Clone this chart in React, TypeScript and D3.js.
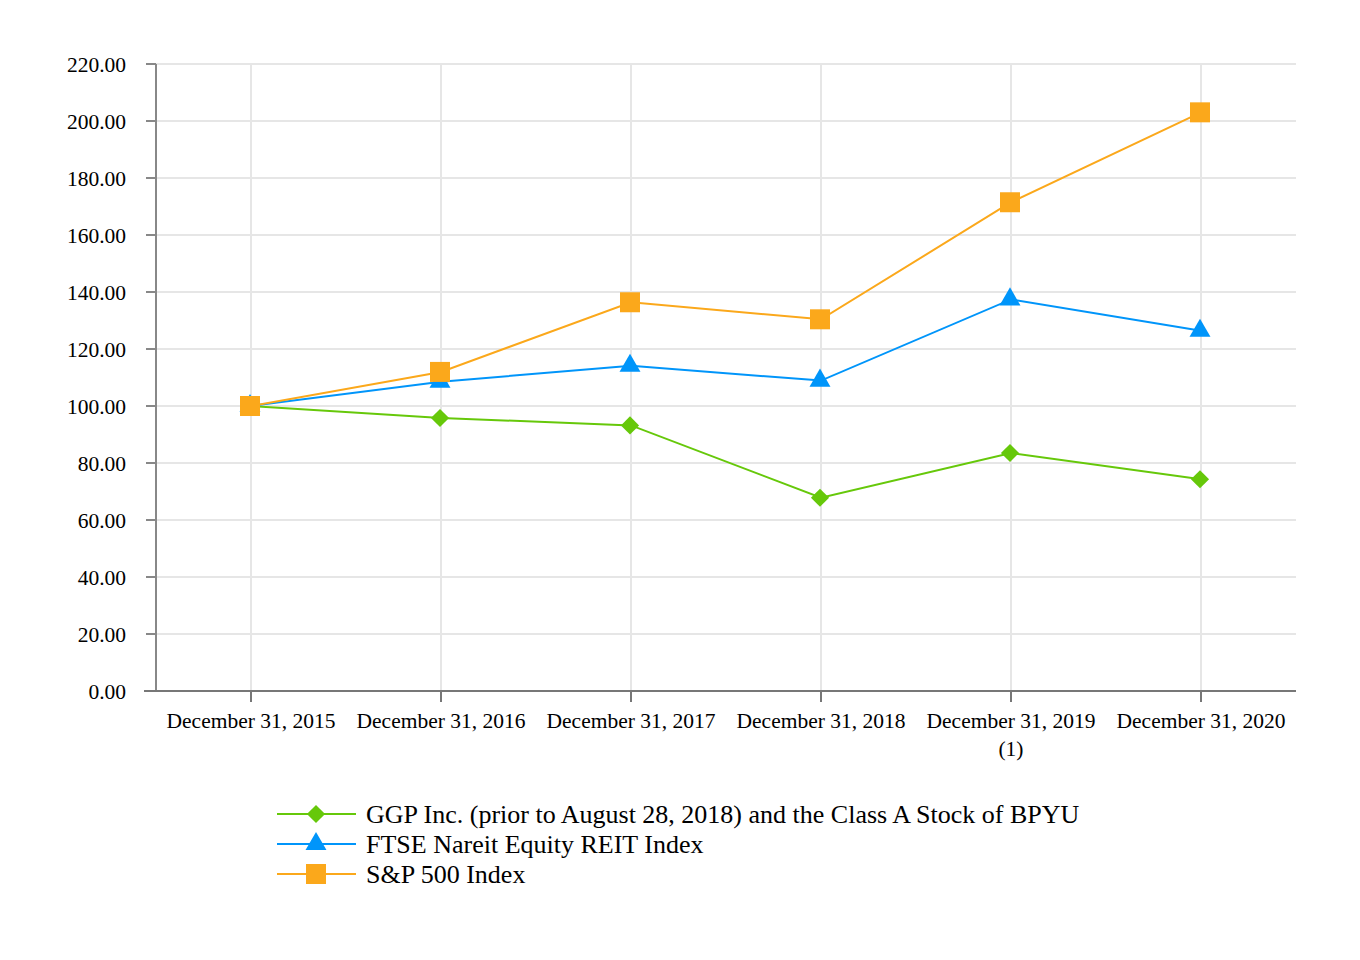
import * as d3 from "d3";
import { useEffect, useRef } from "react";

const categories = [
  "December 31, 2015",
  "December 31, 2016",
  "December 31, 2017",
  "December 31, 2018",
  "December 31, 2019",
  "December 31, 2020",
];
const footnotes = ["", "", "", "", "(1)", ""];

const ggpValues = [100.0, 95.8, 93.2, 67.8, 83.5, 74.3];
const reitValues = [100.0, 108.52, 114.13, 108.91, 137.39, 126.4];
const spValues = [100.0, 111.96, 136.4, 130.42, 171.49, 203.04];

const yTicks = [0, 20, 40, 60, 80, 100, 120, 140, 160, 180, 200, 220];

const seriesNames = [
  "GGP Inc. (prior to August 28, 2018) and the Class A Stock of BPYU",
  "FTSE Nareit Equity REIT Index",
  "S&P 500 Index",
];

const App = () => {
  const ref = useRef<SVGSVGElement>(null);

  useEffect(() => {
    if (!ref.current) return;
    const svg = d3.select(ref.current);
    svg.selectAll("*").remove();

    const left = 156;
    const right = 1296;
    const top = 64;
    const bottom = 691;
    const font = "'Liberation Serif', 'Times New Roman', serif";

    const x = d3.scaleBand<string>().domain(categories).range([left, right]);
    const cx = (c: string) => (x(c) ?? 0) + x.bandwidth() / 2;
    const y = d3.scaleLinear().domain([0, 220]).range([bottom, top]);

    // diamond = rotated square
    const series = [
      { name: seriesNames[0], values: ggpValues, color: "#66c80a", symbol: d3.symbolSquare, size: 165, rot: 45 },
      { name: seriesNames[1], values: reitValues, color: "#0095fa", symbol: d3.symbolTriangle, size: 190, rot: 0 },
      { name: seriesNames[2], values: spValues, color: "#fba81b", symbol: d3.symbolSquare, size: 400, rot: 0 },
    ];

    // grid
    const grid = svg.append("g");
    grid
      .selectAll("line.h")
      .data(yTicks.slice(1))
      .enter()
      .append("line")
      .attr("x1", left)
      .attr("x2", right)
      .attr("y1", (d) => y(d))
      .attr("y2", (d) => y(d))
      .attr("stroke", "#e6e6e6")
      .attr("stroke-width", 2);
    grid
      .selectAll("line.v")
      .data(categories)
      .enter()
      .append("line")
      .attr("x1", cx)
      .attr("x2", cx)
      .attr("y1", top)
      .attr("y2", bottom)
      .attr("stroke", "#e6e6e6")
      .attr("stroke-width", 2);

    // y axis
    const yAxis = svg.append("g");
    yAxis
      .append("line")
      .attr("x1", left)
      .attr("x2", left)
      .attr("y1", top)
      .attr("y2", bottom)
      .attr("stroke", "#888")
      .attr("stroke-width", 2);
    yAxis
      .selectAll("line.t")
      .data(yTicks)
      .enter()
      .append("line")
      .attr("x1", left - 10)
      .attr("x2", left)
      .attr("y1", (d) => y(d))
      .attr("y2", (d) => y(d))
      .attr("stroke", "#888")
      .attr("stroke-width", 2);
    yAxis
      .selectAll("text")
      .data(yTicks)
      .enter()
      .append("text")
      .attr("x", 126)
      .attr("y", (d) => y(d) + 1)
      .attr("dy", "0.34em")
      .attr("text-anchor", "end")
      .style("font-family", font)
      .style("font-size", "21.5px")
      .attr("fill", "#000")
      .text((d) => d.toFixed(2));

    // x axis
    const xAxis = svg.append("g");
    xAxis
      .append("line")
      .attr("x1", left - 12)
      .attr("x2", right)
      .attr("y1", bottom)
      .attr("y2", bottom)
      .attr("stroke", "#777")
      .attr("stroke-width", 2);
    xAxis
      .selectAll("line.t")
      .data(categories)
      .enter()
      .append("line")
      .attr("x1", cx)
      .attr("x2", cx)
      .attr("y1", bottom)
      .attr("y2", bottom + 11)
      .attr("stroke", "#777")
      .attr("stroke-width", 2);
    xAxis
      .selectAll("text.c")
      .data(categories)
      .enter()
      .append("text")
      .attr("x", cx)
      .attr("y", 728)
      .attr("text-anchor", "middle")
      .style("font-family", font)
      .style("font-size", "21.5px")
      .text((d) => d);
    xAxis
      .selectAll("text.f")
      .data(categories)
      .enter()
      .append("text")
      .attr("x", cx)
      .attr("y", 756)
      .attr("text-anchor", "middle")
      .style("font-family", font)
      .style("font-size", "21.5px")
      .text((_d, i) => footnotes[i]);

    // series
    const line = d3
      .line<number>()
      .x((_d, i) => cx(categories[i]))
      .y((d) => y(d));

    series.forEach((s) => {
      const g = svg.append("g");
      g.append("path")
        .attr("d", line(s.values))
        .attr("fill", "none")
        .attr("stroke", s.color)
        .attr("stroke-width", 2);
      g.selectAll("path.m")
        .data(s.values)
        .enter()
        .append("path")
        .attr("d", d3.symbol().type(s.symbol).size(s.size)())
        .attr(
          "transform",
          (d, i) => `translate(${cx(categories[i]) - 1}, ${y(d)}) rotate(${s.rot})`
        )
        .attr("fill", s.color);
    });

    // legend
    const legend = svg.append("g");
    series.forEach((s, i) => {
      const ly = 814 + i * 30;
      legend
        .append("line")
        .attr("x1", 277)
        .attr("x2", 356)
        .attr("y1", ly)
        .attr("y2", ly)
        .attr("stroke", s.color)
        .attr("stroke-width", 2);
      legend
        .append("path")
        .attr("d", d3.symbol().type(s.symbol).size(s.size)())
        .attr("transform", `translate(316, ${ly}) rotate(${s.rot})`)
        .attr("fill", s.color);
      legend
        .append("text")
        .attr("x", 366)
        .attr("y", ly)
        .attr("dy", "0.34em")
        .style("font-family", font)
        .style("font-size", "26px")
        .text(s.name);
    });
  }, []);

  return (
    <svg
      ref={ref}
      width={1360}
      height={960}
      style={{ position: "absolute", left: 0, top: 0, background: "#fff" }}
    ></svg>
  );
};

export default App;
